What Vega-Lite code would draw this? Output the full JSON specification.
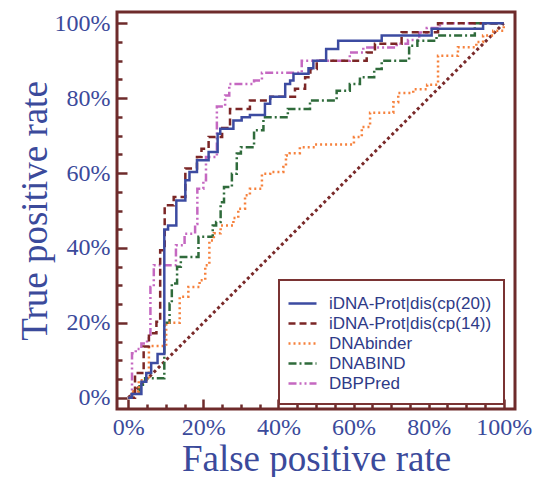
{
  "$schema": "https://vega.github.io/schema/vega-lite/v6.json",
  "width": 398,
  "height": 397,
  "autosize": "none",
  "padding": {"left": 117, "top": 12, "right": 28, "bottom": 68},
  "background": "white",
  "config": {
    "view": {"stroke": "#6e2b2b", "strokeWidth": 3},
    "axis": {
      "domain": false,
      "grid": false,
      "tickColor": "#6e2b2b",
      "tickWidth": 2.5,
      "labelFont": "Liberation Serif",
      "labelFontSize": 24,
      "labelColor": "#3b4a9b",
      "labelFlush": false,
      "labelOverlap": false,
      "labelBound": false,
      "titleFont": "Liberation Serif",
      "titleFontSize": 37,
      "titleFontWeight": "normal",
      "titleColor": "#3b4a9b"
    }
  },
  "encoding": {
    "x": {
      "field": "fpr", "type": "quantitative",
      "scale": {"domain": [-0.03, 1.03], "nice": false, "zero": false},
      "axis": {
        "title": "False positive rate",
        "values": [0, 0.05, 0.1, 0.15, 0.2, 0.25, 0.3, 0.35, 0.4, 0.45, 0.5, 0.55, 0.6, 0.65, 0.7, 0.75, 0.8, 0.85, 0.9, 0.95, 1],
        "labelExpr": "abs(datum.value * 5 - round(datum.value * 5)) < 0.001 ? format(datum.value, '.0%') : ''",
        "tickSize": {"condition": {"test": "abs(datum.value * 5 - round(datum.value * 5)) < 0.001", "value": -10}, "value": -5},
        "labelFont": "Liberation Serif",
        "labelFontSize": 24,
        "labelPadding": 16,
        "titlePadding": -3
      }
    },
    "y": {
      "field": "tpr", "type": "quantitative",
      "scale": {"domain": [-0.03, 1.03], "nice": false, "zero": false},
      "axis": {
        "title": "True positive rate",
        "values": [0, 0.05, 0.1, 0.15, 0.2, 0.25, 0.3, 0.35, 0.4, 0.45, 0.5, 0.55, 0.6, 0.65, 0.7, 0.75, 0.8, 0.85, 0.9, 0.95, 1],
        "labelExpr": "abs(datum.value * 5 - round(datum.value * 5)) < 0.001 ? format(datum.value, '.0%') : ''",
        "tickSize": {"condition": {"test": "abs(datum.value * 5 - round(datum.value * 5)) < 0.001", "value": -10}, "value": -5},
        "labelFont": "Liberation Serif",
        "labelFontSize": 24,
        "labelPadding": 17,
        "titlePadding": 0
      }
    }
  },
  "layer": [
    {
      "data": {"values": [{"fpr": 0, "tpr": 0}, {"fpr": 1, "tpr": 1}]},
      "mark": {"type": "line", "color": "#7a2a2a", "strokeWidth": 3, "strokeDash": [3, 3]},
      "encoding": {}
    },
    {
      "data": {"values": [
        {"model": "DBPPred", "fpr": 0, "tpr": 0},
        {"model": "DBPPred", "fpr": 0.01, "tpr": 0.119},
        {"model": "DBPPred", "fpr": 0.02, "tpr": 0.13},
        {"model": "DBPPred", "fpr": 0.035, "tpr": 0.145},
        {"model": "DBPPred", "fpr": 0.05, "tpr": 0.159},
        {"model": "DBPPred", "fpr": 0.059, "tpr": 0.296},
        {"model": "DBPPred", "fpr": 0.068, "tpr": 0.354},
        {"model": "DBPPred", "fpr": 0.127, "tpr": 0.407},
        {"model": "DBPPred", "fpr": 0.15, "tpr": 0.438},
        {"model": "DBPPred", "fpr": 0.178, "tpr": 0.464},
        {"model": "DBPPred", "fpr": 0.184, "tpr": 0.558},
        {"model": "DBPPred", "fpr": 0.2, "tpr": 0.581},
        {"model": "DBPPred", "fpr": 0.207, "tpr": 0.643},
        {"model": "DBPPred", "fpr": 0.236, "tpr": 0.778},
        {"model": "DBPPred", "fpr": 0.258, "tpr": 0.807},
        {"model": "DBPPred", "fpr": 0.269, "tpr": 0.838},
        {"model": "DBPPred", "fpr": 0.335, "tpr": 0.847},
        {"model": "DBPPred", "fpr": 0.356, "tpr": 0.868},
        {"model": "DBPPred", "fpr": 0.462, "tpr": 0.9},
        {"model": "DBPPred", "fpr": 0.59, "tpr": 0.922},
        {"model": "DBPPred", "fpr": 0.626, "tpr": 0.935},
        {"model": "DBPPred", "fpr": 0.715, "tpr": 0.945},
        {"model": "DBPPred", "fpr": 0.745, "tpr": 0.955},
        {"model": "DBPPred", "fpr": 0.775, "tpr": 0.975},
        {"model": "DBPPred", "fpr": 0.795, "tpr": 0.987},
        {"model": "DBPPred", "fpr": 0.83, "tpr": 1},
        {"model": "DBPPred", "fpr": 1, "tpr": 1},
        {"model": "DNABIND", "fpr": 0, "tpr": 0},
        {"model": "DNABIND", "fpr": 0.01, "tpr": 0.016},
        {"model": "DNABIND", "fpr": 0.03, "tpr": 0.035},
        {"model": "DNABIND", "fpr": 0.045, "tpr": 0.052},
        {"model": "DNABIND", "fpr": 0.096, "tpr": 0.2},
        {"model": "DNABIND", "fpr": 0.11, "tpr": 0.252},
        {"model": "DNABIND", "fpr": 0.116, "tpr": 0.305},
        {"model": "DNABIND", "fpr": 0.13, "tpr": 0.35},
        {"model": "DNABIND", "fpr": 0.14, "tpr": 0.376},
        {"model": "DNABIND", "fpr": 0.187, "tpr": 0.43},
        {"model": "DNABIND", "fpr": 0.225, "tpr": 0.46},
        {"model": "DNABIND", "fpr": 0.234, "tpr": 0.469},
        {"model": "DNABIND", "fpr": 0.246, "tpr": 0.522},
        {"model": "DNABIND", "fpr": 0.255, "tpr": 0.563},
        {"model": "DNABIND", "fpr": 0.276, "tpr": 0.598},
        {"model": "DNABIND", "fpr": 0.289, "tpr": 0.652},
        {"model": "DNABIND", "fpr": 0.3, "tpr": 0.669},
        {"model": "DNABIND", "fpr": 0.335, "tpr": 0.714},
        {"model": "DNABIND", "fpr": 0.36, "tpr": 0.749},
        {"model": "DNABIND", "fpr": 0.425, "tpr": 0.771},
        {"model": "DNABIND", "fpr": 0.484, "tpr": 0.794},
        {"model": "DNABIND", "fpr": 0.555, "tpr": 0.82},
        {"model": "DNABIND", "fpr": 0.59, "tpr": 0.838},
        {"model": "DNABIND", "fpr": 0.617, "tpr": 0.856},
        {"model": "DNABIND", "fpr": 0.655, "tpr": 0.878},
        {"model": "DNABIND", "fpr": 0.675, "tpr": 0.9},
        {"model": "DNABIND", "fpr": 0.748, "tpr": 0.94},
        {"model": "DNABIND", "fpr": 0.77, "tpr": 0.953},
        {"model": "DNABIND", "fpr": 0.821, "tpr": 0.967},
        {"model": "DNABIND", "fpr": 0.923, "tpr": 1},
        {"model": "DNABIND", "fpr": 1, "tpr": 1},
        {"model": "DNAbinder", "fpr": 0, "tpr": 0},
        {"model": "DNAbinder", "fpr": 0.008, "tpr": 0.017},
        {"model": "DNAbinder", "fpr": 0.028, "tpr": 0.047},
        {"model": "DNAbinder", "fpr": 0.055, "tpr": 0.138},
        {"model": "DNAbinder", "fpr": 0.101, "tpr": 0.2},
        {"model": "DNAbinder", "fpr": 0.137, "tpr": 0.27},
        {"model": "DNAbinder", "fpr": 0.16, "tpr": 0.296},
        {"model": "DNAbinder", "fpr": 0.19, "tpr": 0.314},
        {"model": "DNAbinder", "fpr": 0.205, "tpr": 0.354},
        {"model": "DNAbinder", "fpr": 0.216, "tpr": 0.42},
        {"model": "DNAbinder", "fpr": 0.228, "tpr": 0.439},
        {"model": "DNAbinder", "fpr": 0.246, "tpr": 0.46},
        {"model": "DNAbinder", "fpr": 0.28, "tpr": 0.48},
        {"model": "DNAbinder", "fpr": 0.293, "tpr": 0.505},
        {"model": "DNAbinder", "fpr": 0.311, "tpr": 0.541},
        {"model": "DNAbinder", "fpr": 0.324, "tpr": 0.558},
        {"model": "DNAbinder", "fpr": 0.356, "tpr": 0.598},
        {"model": "DNAbinder", "fpr": 0.378, "tpr": 0.603},
        {"model": "DNAbinder", "fpr": 0.413, "tpr": 0.616},
        {"model": "DNAbinder", "fpr": 0.42, "tpr": 0.647},
        {"model": "DNAbinder", "fpr": 0.43, "tpr": 0.653},
        {"model": "DNAbinder", "fpr": 0.457, "tpr": 0.669},
        {"model": "DNAbinder", "fpr": 0.497, "tpr": 0.676},
        {"model": "DNAbinder", "fpr": 0.601, "tpr": 0.696},
        {"model": "DNAbinder", "fpr": 0.622, "tpr": 0.723},
        {"model": "DNAbinder", "fpr": 0.644, "tpr": 0.761},
        {"model": "DNAbinder", "fpr": 0.706, "tpr": 0.789},
        {"model": "DNAbinder", "fpr": 0.719, "tpr": 0.814},
        {"model": "DNAbinder", "fpr": 0.759, "tpr": 0.824},
        {"model": "DNAbinder", "fpr": 0.796, "tpr": 0.836},
        {"model": "DNAbinder", "fpr": 0.825, "tpr": 0.913},
        {"model": "DNAbinder", "fpr": 0.878, "tpr": 0.936},
        {"model": "DNAbinder", "fpr": 0.927, "tpr": 0.95},
        {"model": "DNAbinder", "fpr": 0.945, "tpr": 0.967},
        {"model": "DNAbinder", "fpr": 0.972, "tpr": 0.98},
        {"model": "DNAbinder", "fpr": 1, "tpr": 1},
        {"model": "iDNA-Prot|dis(cp(14))", "fpr": 0, "tpr": 0},
        {"model": "iDNA-Prot|dis(cp(14))", "fpr": 0.018, "tpr": 0.066},
        {"model": "iDNA-Prot|dis(cp(14))", "fpr": 0.041, "tpr": 0.137},
        {"model": "iDNA-Prot|dis(cp(14))", "fpr": 0.055, "tpr": 0.172},
        {"model": "iDNA-Prot|dis(cp(14))", "fpr": 0.075, "tpr": 0.203},
        {"model": "iDNA-Prot|dis(cp(14))", "fpr": 0.085, "tpr": 0.394},
        {"model": "iDNA-Prot|dis(cp(14))", "fpr": 0.097, "tpr": 0.514},
        {"model": "iDNA-Prot|dis(cp(14))", "fpr": 0.121, "tpr": 0.536},
        {"model": "iDNA-Prot|dis(cp(14))", "fpr": 0.152, "tpr": 0.612},
        {"model": "iDNA-Prot|dis(cp(14))", "fpr": 0.183, "tpr": 0.643},
        {"model": "iDNA-Prot|dis(cp(14))", "fpr": 0.195, "tpr": 0.665},
        {"model": "iDNA-Prot|dis(cp(14))", "fpr": 0.214, "tpr": 0.696},
        {"model": "iDNA-Prot|dis(cp(14))", "fpr": 0.25, "tpr": 0.72},
        {"model": "iDNA-Prot|dis(cp(14))", "fpr": 0.271, "tpr": 0.771},
        {"model": "iDNA-Prot|dis(cp(14))", "fpr": 0.324, "tpr": 0.794},
        {"model": "iDNA-Prot|dis(cp(14))", "fpr": 0.378, "tpr": 0.804},
        {"model": "iDNA-Prot|dis(cp(14))", "fpr": 0.444, "tpr": 0.825},
        {"model": "iDNA-Prot|dis(cp(14))", "fpr": 0.471, "tpr": 0.856},
        {"model": "iDNA-Prot|dis(cp(14))", "fpr": 0.485, "tpr": 0.878},
        {"model": "iDNA-Prot|dis(cp(14))", "fpr": 0.502, "tpr": 0.9},
        {"model": "iDNA-Prot|dis(cp(14))", "fpr": 0.635, "tpr": 0.922},
        {"model": "iDNA-Prot|dis(cp(14))", "fpr": 0.657, "tpr": 0.945},
        {"model": "iDNA-Prot|dis(cp(14))", "fpr": 0.728, "tpr": 0.976},
        {"model": "iDNA-Prot|dis(cp(14))", "fpr": 0.825, "tpr": 1},
        {"model": "iDNA-Prot|dis(cp(14))", "fpr": 1, "tpr": 1},
        {"model": "iDNA-Prot|dis(cp(20))", "fpr": 0, "tpr": 0},
        {"model": "iDNA-Prot|dis(cp(20))", "fpr": 0.009, "tpr": 0.01},
        {"model": "iDNA-Prot|dis(cp(20))", "fpr": 0.035, "tpr": 0.043},
        {"model": "iDNA-Prot|dis(cp(20))", "fpr": 0.048, "tpr": 0.066},
        {"model": "iDNA-Prot|dis(cp(20))", "fpr": 0.061, "tpr": 0.093},
        {"model": "iDNA-Prot|dis(cp(20))", "fpr": 0.078, "tpr": 0.117},
        {"model": "iDNA-Prot|dis(cp(20))", "fpr": 0.096, "tpr": 0.449},
        {"model": "iDNA-Prot|dis(cp(20))", "fpr": 0.106, "tpr": 0.46},
        {"model": "iDNA-Prot|dis(cp(20))", "fpr": 0.128, "tpr": 0.527},
        {"model": "iDNA-Prot|dis(cp(20))", "fpr": 0.152, "tpr": 0.581},
        {"model": "iDNA-Prot|dis(cp(20))", "fpr": 0.163, "tpr": 0.603},
        {"model": "iDNA-Prot|dis(cp(20))", "fpr": 0.183, "tpr": 0.634},
        {"model": "iDNA-Prot|dis(cp(20))", "fpr": 0.214, "tpr": 0.656},
        {"model": "iDNA-Prot|dis(cp(20))", "fpr": 0.238, "tpr": 0.705},
        {"model": "iDNA-Prot|dis(cp(20))", "fpr": 0.245, "tpr": 0.718},
        {"model": "iDNA-Prot|dis(cp(20))", "fpr": 0.28, "tpr": 0.74},
        {"model": "iDNA-Prot|dis(cp(20))", "fpr": 0.302, "tpr": 0.749},
        {"model": "iDNA-Prot|dis(cp(20))", "fpr": 0.324, "tpr": 0.755},
        {"model": "iDNA-Prot|dis(cp(20))", "fpr": 0.364, "tpr": 0.785},
        {"model": "iDNA-Prot|dis(cp(20))", "fpr": 0.378, "tpr": 0.804},
        {"model": "iDNA-Prot|dis(cp(20))", "fpr": 0.418, "tpr": 0.838},
        {"model": "iDNA-Prot|dis(cp(20))", "fpr": 0.431, "tpr": 0.847},
        {"model": "iDNA-Prot|dis(cp(20))", "fpr": 0.44, "tpr": 0.865},
        {"model": "iDNA-Prot|dis(cp(20))", "fpr": 0.48, "tpr": 0.88},
        {"model": "iDNA-Prot|dis(cp(20))", "fpr": 0.493, "tpr": 0.9},
        {"model": "iDNA-Prot|dis(cp(20))", "fpr": 0.527, "tpr": 0.931},
        {"model": "iDNA-Prot|dis(cp(20))", "fpr": 0.559, "tpr": 0.953},
        {"model": "iDNA-Prot|dis(cp(20))", "fpr": 0.675, "tpr": 0.967},
        {"model": "iDNA-Prot|dis(cp(20))", "fpr": 0.808, "tpr": 0.985},
        {"model": "iDNA-Prot|dis(cp(20))", "fpr": 0.945, "tpr": 1},
        {"model": "iDNA-Prot|dis(cp(20))", "fpr": 1, "tpr": 1}
      ]},
      "mark": {"type": "line", "interpolate": "step-after", "strokeWidth": 2.5},
      "encoding": {
        "color": {
          "field": "model", "type": "nominal",
          "scale": {
            "domain": ["iDNA-Prot|dis(cp(20))", "iDNA-Prot|dis(cp(14))", "DNAbinder", "DNABIND", "DBPPred"],
            "range": ["#3c4ba1", "#7b2626", "#f6813c", "#2f6b3b", "#c568c1"]
          },
          "legend": {
            "title": null,
            "orient": "none",
            "legendX": 162,
            "legendY": 268,
            "padding": 12,
            "fillColor": "white",
            "strokeColor": "#7a3333",
            "symbolType": "M-1.4,0H1.4",
            "symbolSize": 400,
            "symbolStrokeWidth": 2.5,
            "labelOffset": 15,
            "labelFont": "Liberation Sans",
            "labelFontSize": 17,
            "labelColor": "#2e3a87",
            "labelLimit": 400,
            "rowPadding": 0,
            "encode": {"legend": {"update": {"strokeWidth": {"value": 2}}}}
          }
        },
        "strokeDash": {
          "field": "model", "type": "nominal",
          "scale": {
            "domain": ["iDNA-Prot|dis(cp(20))", "iDNA-Prot|dis(cp(14))", "DNAbinder", "DNABIND", "DBPPred"],
            "range": [[1, 0], [7, 4], [2, 3], [8, 3, 2, 3], [8, 3, 2, 3, 2, 3]]
          }
        }
      }
    }
  ]
}
